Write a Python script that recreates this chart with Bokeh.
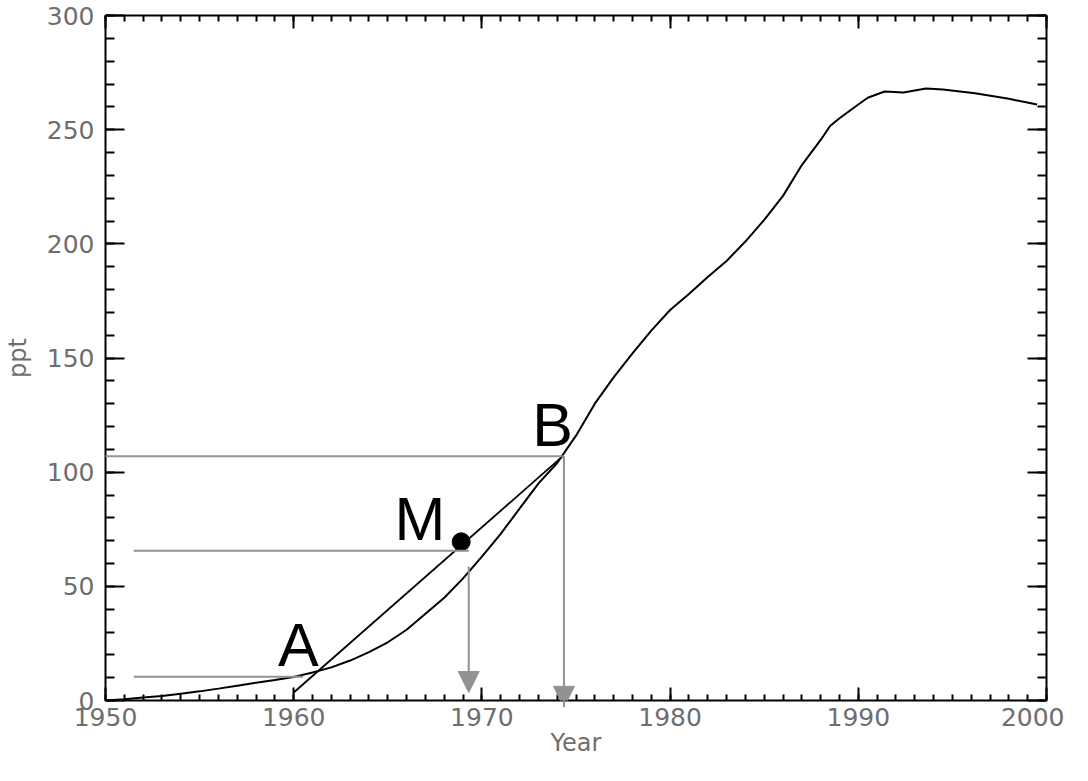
from bokeh.plotting import figure
from bokeh.models import (Range1d, LinearAxis, SingleIntervalTicker, Arrow,
                          NormalHead, ColumnDataSource)
from bokeh.core.properties import value
from bokeh.embed import file_html
from bokeh.resources import INLINE

# ---- data ----
years = [1950, 1951, 1952, 1953, 1954, 1955, 1956, 1957, 1958, 1959,
         1960, 1961, 1962, 1963, 1964, 1965, 1966, 1967, 1968, 1969,
         1970, 1971, 1972, 1973, 1974, 1975, 1976, 1977, 1978, 1979,
         1980, 1981, 1982, 1983, 1984, 1985, 1986, 1987, 1988, 1988.5,
         1989, 1990, 1990.5, 1991.4, 1992.4, 1993.6, 1994.5, 1996.2, 1998, 1999.5]
ppt = [0.0, 0.6, 1.3, 2.0, 3.0, 4.0, 5.2, 6.5, 7.8, 9.0,
       10.3, 12.3, 14.5, 17.5, 21.2, 25.5, 31.0, 38.0, 45.0, 53.5,
       63.0, 73.0, 84.0, 95.0, 104.0, 116.0, 130.0, 141.5, 152.0, 162.0,
       171.0, 178.0, 185.5, 192.5, 201.0, 210.5, 221.0, 234.5, 245.5, 251.6,
       255.0, 261.0, 264.0, 266.7, 266.3, 268.0, 267.6, 265.9, 263.5, 261.0]

# chord A-B
chord_x = [1960.0, 1974.3]
chord_y = [3.5, 107.0]
# midpoint M
m_x = [1968.9]
m_y = [69.5]

# gray guide lines: (x_start, x_end, y)
hline_x0 = [1951.5, 1951.5, 1949.74]
hline_x1 = [1960.5, 1969.3, 1974.3]
hline_y = [10.4, 65.6, 107.0]
# gray arrows: (x, y_start, y_tip)
arrow_x = [1969.3, 1974.36]
arrow_y0 = [58.7, 107.0]
arrow_y1 = [3.5, -3.0]

# letter labels (anchor = left edge, cap-height middle)
label_text = ["A", "M", "B"]
label_x = [1959.16, 1965.36, 1972.67]
label_y = [24.4, 79.6, 120.6]

x_ticks_interval = 10
y_ticks_interval = 50

GRAY = "#929292"
TXT = "#6e6e6e"
FONT = "DejaVu Sans"

p = figure(width=1064, height=765, output_backend="svg", toolbar_location=None,
           x_range=Range1d(1950, 2000), y_range=Range1d(0, 300),
           min_border_left=102, min_border_right=18, min_border_top=15,
           min_border_bottom=65,
           x_axis_label="Year", y_axis_label="ppt")
p.outline_line_color = None
p.xgrid.visible = False
p.ygrid.visible = False
p.background_fill_color = "white"
p.border_fill_color = "white"

xt = SingleIntervalTicker(interval=x_ticks_interval, num_minor_ticks=10)
yt = SingleIntervalTicker(interval=y_ticks_interval, num_minor_ticks=5)


def style_axis(ax, ticker, tin, tmin, labels=True):
    ax.ticker = ticker
    ax.axis_line_color = "black"
    ax.axis_line_width = 2
    ax.major_tick_line_color = "black"
    ax.major_tick_line_width = 2
    ax.minor_tick_line_color = "black"
    ax.minor_tick_line_width = 2
    ax.major_tick_in = tin
    ax.major_tick_out = 0
    ax.minor_tick_in = tmin
    ax.minor_tick_out = 0
    if labels:
        ax.major_label_text_font = FONT
        ax.major_label_text_font_size = "25px"
        ax.major_label_text_color = TXT
        ax.axis_label_text_font = FONT
        ax.axis_label_text_font_size = "24px"
        ax.axis_label_text_color = TXT
        ax.axis_label_text_font_style = "normal"
    else:
        ax.major_label_text_font_size = "1px"
        ax.major_label_standoff = 0
        ax.major_label_overrides = {v: "" for v in range(0, 2001, 10)}


style_axis(p.xaxis[0], xt, 13, 6)
style_axis(p.yaxis[0], yt, 19, 9)
p.xaxis[0].major_label_standoff = 7
p.xaxis[0].axis_label_standoff = 0
p.yaxis[0].major_label_standoff = 11
p.yaxis[0].axis_label_standoff = 12

top = LinearAxis()
style_axis(top, SingleIntervalTicker(interval=x_ticks_interval, num_minor_ticks=10), 13, 6, labels=False)
p.add_layout(top, "above")
right = LinearAxis()
style_axis(right, SingleIntervalTicker(interval=y_ticks_interval, num_minor_ticks=5), 19, 9, labels=False)
p.add_layout(right, "right")

# gray guide lines
for x0, x1, y in zip(hline_x0, hline_x1, hline_y):
    p.add_layout(Arrow(start=None, end=None, x_start=x0, y_start=y, x_end=x1, y_end=y,
                       line_color=GRAY, line_width=2))
for x, y0, y1 in zip(arrow_x, arrow_y0, arrow_y1):
    p.add_layout(Arrow(start=None,
                       end=NormalHead(size=21, fill_color=GRAY, line_color=GRAY, line_width=1),
                       x_start=x, y_start=y0, x_end=x, y_end=y1,
                       line_color=GRAY, line_width=2))

# main curve
p.line(years, ppt, line_color="black", line_width=2)
# chord
p.line(chord_x, chord_y, line_color="black", line_width=1.8)
# M point
p.scatter(m_x, m_y, size=18, marker="circle", fill_color="black", line_color="black")

# letters
src = ColumnDataSource(dict(x=label_x, y=label_y, t=label_text))
p.text(x="x", y="y", text="t", source=src, text_font=value("Liberation Sans"),
       text_font_size="61px", text_color="black", text_align="left",
       text_baseline="middle")

open("out.html", "w").write(file_html(p, INLINE))
